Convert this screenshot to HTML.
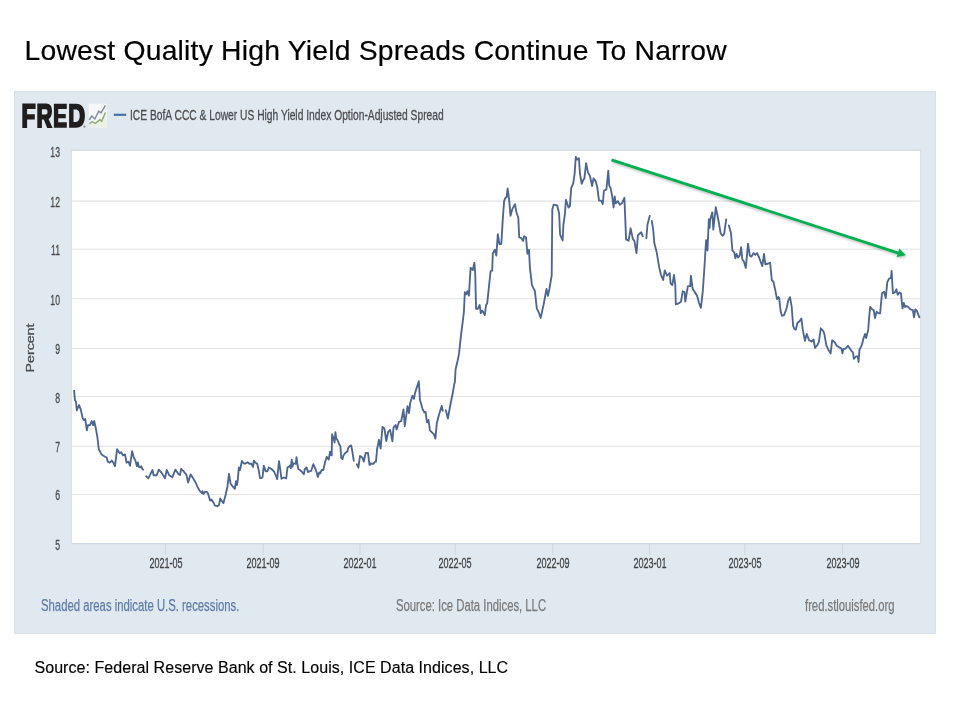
<!DOCTYPE html>
<html><head><meta charset="utf-8">
<style>
html,body{margin:0;padding:0;background:#fff;}
body{width:960px;height:720px;position:relative;overflow:hidden;font-family:"Liberation Sans",sans-serif;}
.title{position:absolute;left:24.5px;top:34.3px;font-size:28.3px;line-height:32px;color:#000;letter-spacing:0.21px;white-space:nowrap;-webkit-text-stroke:0.2px #000;}
.panel{position:absolute;left:14px;top:91px;width:922px;height:543px;background:#e1e9f0;box-shadow:inset 0 0 0 1px #d9e0e8;}
svg.ch{position:absolute;left:0;top:0;}
.yl{position:absolute;left:20px;width:40px;text-align:right;font-size:14px;line-height:16px;color:#4d4d4d;transform:scaleX(0.62);transform-origin:100% 50%;-webkit-text-stroke:0.3px #4d4d4d;}
.xl{position:absolute;top:554.9px;width:80px;text-align:center;font-size:14.5px;line-height:17px;color:#444;transform:scaleX(0.624);-webkit-text-stroke:0.3px #444;}
.pct{position:absolute;left:30px;top:347.8px;font-size:10.8px;line-height:12px;color:#4d4d4d;transform:translate(-50%,-50%) rotate(-90deg) scaleX(1.31);white-space:nowrap;-webkit-text-stroke:0.3px #4d4d4d;}
.legend{position:absolute;left:130.3px;top:106px;font-size:15px;line-height:17px;color:#4d4d4d;white-space:nowrap;transform:scaleX(0.684);transform-origin:0 0;-webkit-text-stroke:0.3px #4d4d4d;}
.foot{position:absolute;top:597px;-webkit-text-stroke:0.25px currentColor;font-size:16px;line-height:18px;white-space:nowrap;transform-origin:0 0;}
.src{position:absolute;left:34.5px;top:658px;-webkit-text-stroke:0.15px #000;font-size:16px;line-height:19px;color:#000;white-space:nowrap;letter-spacing:0.05px;}
#wrap{position:absolute;left:0;top:0;width:960px;height:720px;filter:blur(0.35px);}
</style></head><body><div id="wrap">
<div class="title">Lowest Quality High Yield Spreads Continue To Narrow</div>
<div class="panel"></div>
<svg class="ch" width="960" height="720" viewBox="0 0 960 720">
<rect x="71.8" y="150.7" width="848.2" height="392.9" fill="#fff"/>
<line x1="71.3" x2="71.3" y1="150.7" y2="543.6" stroke="#d8dee8" stroke-width="1"/><line x1="70.8" x2="921" y1="150.1" y2="150.1" stroke="#d6dbe2" stroke-width="1.3"/><line x1="920.6" x2="920.6" y1="150.7" y2="543.6" stroke="#d9dfe7" stroke-width="1.2"/>
<line x1="71.8" x2="920" y1="494.4" y2="494.4" stroke="#e3e3e3" stroke-width="1.05"/><line x1="71.8" x2="920" y1="446.2" y2="446.2" stroke="#e3e3e3" stroke-width="1.05"/><line x1="71.8" x2="920" y1="396.5" y2="396.5" stroke="#e3e3e3" stroke-width="1.05"/><line x1="71.8" x2="920" y1="348.4" y2="348.4" stroke="#e3e3e3" stroke-width="1.05"/><line x1="71.8" x2="920" y1="298.8" y2="298.8" stroke="#e3e3e3" stroke-width="1.05"/><line x1="71.8" x2="920" y1="249.2" y2="249.2" stroke="#e3e3e3" stroke-width="1.05"/><line x1="71.8" x2="920" y1="201.1" y2="201.1" stroke="#e3e3e3" stroke-width="1.05"/>
<line x1="71.8" x2="920" y1="543.6" y2="543.6" stroke="#ccd6e0" stroke-width="1.2"/>
<line x1="165.6" x2="165.6" y1="543.6" y2="555.1" stroke="#cdd5df" stroke-width="1"/><line x1="263.2" x2="263.2" y1="543.6" y2="555.1" stroke="#cdd5df" stroke-width="1"/><line x1="360.0" x2="360.0" y1="543.6" y2="555.1" stroke="#cdd5df" stroke-width="1"/><line x1="455.2" x2="455.2" y1="543.6" y2="555.1" stroke="#cdd5df" stroke-width="1"/><line x1="552.8" x2="552.8" y1="543.6" y2="555.1" stroke="#cdd5df" stroke-width="1"/><line x1="649.6" x2="649.6" y1="543.6" y2="555.1" stroke="#cdd5df" stroke-width="1"/><line x1="744.9" x2="744.9" y1="543.6" y2="555.1" stroke="#cdd5df" stroke-width="1"/><line x1="842.5" x2="842.5" y1="543.6" y2="555.1" stroke="#cdd5df" stroke-width="1"/>
<line x1="113.8" x2="126.2" y1="114.8" y2="114.8" stroke="#4572a7" stroke-width="2.2"/>
<path d="M74.1,390.6 L74.9,400.0 L76.0,401.7 L76.8,410.3 L79.1,405.0 L80.7,409.4 L82.7,418.3 L83.8,420.0 L85.2,419.0 L86.9,430.4 L87.9,425.2 L90.0,425.2 L91.7,421.0 L93.1,425.2 L94.2,421.0 L95.8,428.3 L97.3,436.7 L98.8,449.2 L101.5,454.4 L104.6,456.5 L106.7,457.5 L107.7,461.7 L109.8,462.7 L111.9,460.6 L113.3,462.7 L115.0,466.2 L117.1,449.2 L119.6,453.3 L121.2,452.3 L122.9,455.4 L125.0,454.4 L126.5,462.7 L128.5,461.7 L130.0,465.8 L132.1,451.2 L133.8,457.5 L135.6,461.2 L136.9,466.2 L137.8,462.5 L139.0,466.9 L140.2,467.5 L141.2,466.2 L142.5,469.4 L143.1,469.6 M146.2,476.2 L148.3,478.3 L150.4,474.2 L152.5,470.0 L153.5,475.2 L156.7,475.2 L158.8,469.6 L161.9,473.1 L165.0,478.3 L166.7,470.0 L169.2,475.2 L172.3,477.3 L175.4,469.6 L178.5,474.2 L180.0,475.0 L181.2,468.8 L183.1,470.6 L185.0,473.1 L186.2,474.4 L186.9,476.9 L188.1,482.5 L189.0,479.4 L190.6,474.4 L191.9,476.2 L193.8,479.4 L195.6,482.5 L197.5,486.9 L200.0,491.2 L201.9,493.1 L202.5,491.2 L203.5,494.0 L205.0,491.9 L206.9,491.9 L208.1,493.8 L210.0,500.6 L211.2,499.4 L213.1,501.9 L215.0,505.6 L217.5,506.2 L219.0,505.0 L220.2,498.5 L221.9,501.2 L223.5,503.1 L225.6,495.0 L227.5,486.2 L229.0,473.8 L230.6,483.8 L232.5,486.2 L234.8,488.8 L236.0,481.2 L236.9,485.0 L237.8,480.0 L238.8,467.5 L240.0,470.0 L241.9,461.0 L243.8,463.5 L245.6,463.5 L247.5,462.2 L249.4,463.8 L251.2,463.5 L253.1,466.9 L253.8,460.6 L255.6,462.8 L257.2,463.8 L258.8,470.6 L260.0,478.1 L261.2,478.1 L262.5,477.5 L263.8,465.6 L265.6,471.2 L267.5,471.2 L268.8,467.5 L271.2,468.8 L273.8,471.2 L276.2,476.2 L277.2,479.1 L279.0,461.2 L280.0,467.5 L281.5,478.8 L283.8,477.5 L286.2,478.5 L287.5,467.5 L289.4,466.2 L290.0,465.4 L290.8,468.3 L291.7,459.6 L292.5,466.7 L293.3,463.3 L295.8,463.8 L296.5,457.1 L297.5,465.0 L298.3,469.2 L300.0,470.0 L301.7,471.7 L303.8,474.2 L304.8,469.2 L306.7,467.5 L307.9,472.1 L310.0,471.2 L311.2,470.8 L313.3,464.2 L315.0,467.9 L316.7,472.5 L317.9,477.1 L319.2,472.5 L320.2,473.3 L321.7,470.0 L323.3,470.0 L325.0,462.5 L326.7,456.7 L328.8,459.6 L330.0,451.7 L330.8,455.0 L331.7,455.4 L332.1,434.2 L333.3,437.5 L334.6,442.5 L335.4,432.1 L336.2,438.3 L337.5,440.0 L339.2,444.2 L340.4,446.2 L341.2,457.9 L342.5,459.2 L343.3,455.8 L345.0,453.3 L347.5,451.2 L348.3,447.9 L349.6,446.2 L351.2,445.4 L352.5,452.5 L353.8,460.8 M356.9,464.3 L358.4,467.7 L360.0,455.9 L362.3,457.4 L363.8,461.6 L365.7,452.8 L368.0,452.8 L369.5,465.0 L371.0,463.5 L373.3,463.9 L375.2,461.6 L376.0,461.6 L377.1,449.0 L379.0,439.8 L380.6,448.6 L382.5,426.9 L384.4,428.4 L386.3,441.0 L388.2,431.8 L390.1,429.9 L392.4,441.4 L393.5,427.6 L395.5,425.0 L396.6,429.5 L399.0,421.9 L401.2,421.2 L403.5,409.4 L404.8,426.2 L405.6,420.0 L407.5,406.2 L409.0,413.1 L410.2,403.1 L412.5,395.6 L414.0,398.8 L415.0,393.1 L418.8,381.2 L420.0,400.0 L422.5,408.8 L424.4,412.5 L425.6,411.9 L426.9,422.5 L428.5,419.9 L429.9,430.3 L431.9,432.4 L434.0,434.4 L435.4,438.6 L436.8,423.3 L438.9,415.0 L441.7,406.0 L442.8,410.8 M445.8,410.1 L447.9,418.5 L450.0,406.7 L452.8,392.8 L454.2,384.4 L454.9,381.7 L455.6,369.2 L457.6,360.8 L459.0,353.9 L461.1,334.4 L462.8,321.1 L463.9,312.2 L464.8,292.2 L466.1,294.4 L467.4,291.1 L468.9,295.6 L470.6,267.8 L472.8,270.0 L474.4,262.8 L475.2,273.3 L476.1,308.9 L477.8,308.9 L479.7,305.0 L480.8,313.3 L482.2,310.6 L483.7,312.8 L484.8,315.0 L486.1,305.0 L487.2,303.3 L490.6,271.1 L492.2,270.6 L492.8,253.3 L494.9,249.8 L496.3,255.6 L497.8,234.2 L499.4,244.0 L501.3,244.0 L502.7,220.6 L504.1,201.1 L505.6,197.3 L506.6,197.3 L507.6,188.5 L509.1,199.2 L510.5,215.7 L512.4,208.9 L515.0,204.1 L516.3,211.8 L518.3,217.7 L519.2,237.2 L521.2,238.1 L523.1,241.0 L524.1,236.2 L526.0,237.2 L527.4,253.7 L529.0,249.8 L529.9,267.3 L531.9,284.8 L532.9,287.1 L534.9,291.0 L536.8,308.4 L538.7,312.3 L540.7,317.8 L543.6,304.6 L546.5,289.0 L547.9,295.8 L549.4,289.0 L551.7,275.4 L552.3,209.4 L553.7,204.6 L557.2,205.5 L559.1,213.3 L560.1,234.7 L562.6,240.5 L563.4,225.0 L565.0,213.3 L565.9,199.7 L567.1,203.3 L568.5,207.5 L569.9,206.1 L571.2,188.1 L573.3,183.2 L574.7,172.8 L575.8,156.8 L577.2,159.6 L578.9,158.2 L580.0,174.2 L581.7,183.9 L583.1,180.4 L584.4,178.3 L586.1,163.1 L587.9,172.1 L590.0,176.2 L592.1,186.0 L593.5,178.3 L595.6,181.1 L597.2,186.7 L599.0,200.6 L601.1,200.6 L602.8,204.0 L603.9,190.8 L606.4,189.4 L608.3,170.7 L609.2,185.3 L610.6,188.1 L612.2,196.4 L613.6,207.5 L614.7,196.4 L615.7,203.3 L617.8,201.2 L619.9,204.7 L621.9,203.3 L624.4,197.8 L626.1,239.4 L628.6,240.8 L630.6,228.3 L632.8,238.8 L634.4,240.8 L635.6,247.8 L636.5,253.2 L637.9,235.3 L641.2,232.3 L642.8,236.3 M646.3,238.4 L647.5,224.5 L649.8,215.8 M651.8,221.0 L653.2,229.7 L654.4,243.6 L656.7,252.3 L659.3,267.9 L661.0,274.8 L663.1,280.0 L664.8,270.5 L667.1,275.7 L669.7,273.1 L670.6,283.5 L672.3,285.2 L674.0,274.8 L675.3,285.2 L675.8,304.3 L678.4,303.5 L681.0,301.7 L682.7,291.3 L684.5,292.2 L685.3,301.7 L687.9,286.1 L690.2,286.1 L690.9,275.7 L692.6,288.7 L694.9,292.2 L697.1,295.7 L698.9,302.6 L700.9,307.8 L702.7,292.2 L704.4,267.9 L706.1,240.1 L707.5,250.5 L708.8,219.3 L709.6,228.0 L710.2,219.3 L712.3,212.4 L713.3,229.7 L715.8,207.1 L717.5,215.8 L718.9,222.8 L720.6,233.2 L722.4,235.8 L724.1,234.0 L726.2,219.3 M728.9,225.4 L731.0,233.2 L732.4,250.5 L734.2,252.3 L735.4,258.3 L736.6,254.0 L738.0,257.5 L739.7,255.7 L741.1,247.1 L742.3,259.2 L744.0,261.8 L745.8,267.9 L748.0,243.6 L749.8,255.7 L751.5,256.6 L753.6,253.1 L755.3,254.9 L757.1,253.1 L759.1,257.5 L762.3,266.1 L764.0,254.0 L765.4,264.4 L768.3,263.5 L770.1,262.7 L771.8,280.0 L773.5,281.8 L775.3,290.4 L777.0,299.1 L778.5,297.1 L779.2,297.8 L780.6,311.0 L781.9,315.8 L784.0,315.1 L785.4,311.7 L786.8,307.5 L788.2,300.6 L790.0,297.1 L791.7,306.8 L793.1,325.6 L794.4,329.0 L795.8,329.7 L797.5,322.8 L799.3,321.4 L801.4,318.6 L802.8,329.7 L804.9,340.8 L806.7,333.9 L809.0,340.1 L811.4,341.5 L813.6,339.4 L815.0,347.8 L817.4,345.0 L818.8,342.2 L820.8,328.3 L823.3,331.1 L824.3,333.9 L826.4,345.7 L828.5,349.9 L830.6,353.3 L832.2,340.1 L834.7,342.2 L836.8,345.7 L838.9,347.1 L841.4,348.5 L842.4,353.3 L843.3,349.2 L845.8,348.5 L847.9,345.7 L851.4,350.8 L853.0,352.4 L853.8,358.8 L856.2,356.4 L857.8,356.4 L858.6,362.0 L859.4,350.0 L861.8,345.2 L863.4,338.8 L865.0,334.0 L866.1,338.0 L868.2,330.0 L869.0,318.9 L870.2,306.9 L872.1,309.3 L873.7,310.1 L875.0,318.1 L876.6,311.7 L878.5,313.3 L880.1,313.3 L882.0,293.3 L884.1,291.7 L885.7,298.1 L887.3,282.1 L888.9,279.0 L891.0,277.4 L891.6,271.0 L892.9,293.3 L894.8,292.5 L896.4,289.3 L897.7,294.9 L899.3,292.5 L900.9,293.3 L902.5,308.5 L903.8,302.9 L904.9,306.9 L906.5,306.1 L908.1,306.9 L910.5,309.3 L912.9,310.1 L914.0,317.3 L915.3,309.3 L916.9,310.9 L919.3,317.3" fill="none" stroke="#4d6690" stroke-width="1.85" stroke-linejoin="round" stroke-linecap="round"/>
<g>
<rect x="88.8" y="103.8" width="17.9" height="23.7" fill="#f6f8f7"/>
<polygon points="89.2,123.75 92.1,121.7 95.4,123.3 100,119.6 101.7,121.25 105.4,112.5 106.7,127.5 88.8,127.5" fill="#ebf2e4"/>
<polyline points="89.2,120 91.9,116 94.8,119 98.75,111.25 101,112.9 105.4,105.4" fill="none" stroke="#87909b" stroke-width="1.5"/>
<polyline points="89.2,123.75 92.1,121.7 95.4,123.3 100,119.6 101.7,121.25 105.4,112.5" fill="none" stroke="#93aa80" stroke-width="1.5"/>
</g>
<g fill="#1f1d1e">
<path d="M22.3,103.5 H35.6 V109 H27.1 V114.2 H34.8 V119.4 H27.1 V127.9 H22.3 Z"/>
<path fill-rule="evenodd" d="M37.3,103.5 H46.2 C50.2,103.5 52,106.2 52,111.4 C52,115.2 50.6,117.8 48.6,118.9 L52.6,127.9 H47.2 L43.8,119.6 H41.9 V127.9 H37.3 Z M41.9,109.2 H45.8 C47,109.2 47.5,110.1 47.5,111.8 C47.5,113.5 47,114.4 45.8,114.4 H41.9 Z"/>
<path d="M53.9,103.75 H66.8 V109 H58.25 V114 H65.75 V118.3 H58.25 V122.3 H66.8 V127.7 H53.9 Z"/>
<path fill-rule="evenodd" d="M69.1,103.75 H76 C81.8,103.75 84.9,108 84.9,115.7 C84.9,123.4 81.8,127.7 76,127.7 H69.1 Z M73.5,109.4 H75.6 C78.4,109.4 79.7,111.5 79.7,115.6 C79.7,119.8 78.4,121.9 75.6,121.9 H73.5 Z"/>
<circle cx="84.4" cy="126.6" r="1.1" fill="#888"/>
</g>
<defs><filter id="sh" x="-5%" y="-50%" width="110%" height="200%"><feGaussianBlur stdDeviation="1"/></filter></defs>
<g filter="url(#sh)" opacity="0.22"><line x1="612" y1="161.6" x2="899" y2="255" stroke="#000" stroke-width="2.8"/><polygon points="906.5,257.1 899.9,250.4 897.1,258.8" fill="#000"/></g>
<line x1="611.5" y1="159.8" x2="898.5" y2="253.2" stroke="#00b050" stroke-width="2.8"/>
<polygon points="906,255.3 899.4,248.6 896.6,257" fill="#00b050"/>
</svg>
<div class="legend">ICE BofA CCC &amp; Lower US High Yield Index Option-Adjusted Spread</div>
<div class="yl" style="top:536.6px">5</div><div class="yl" style="top:487.4px">6</div><div class="yl" style="top:439.2px">7</div><div class="yl" style="top:389.5px">8</div><div class="yl" style="top:341.4px">9</div><div class="yl" style="top:291.8px">10</div><div class="yl" style="top:242.2px">11</div><div class="yl" style="top:194.1px">12</div><div class="yl" style="top:143.7px">13</div>
<div class="xl" style="left:125.6px">2021-05</div><div class="xl" style="left:223.2px">2021-09</div><div class="xl" style="left:320.0px">2022-01</div><div class="xl" style="left:415.2px">2022-05</div><div class="xl" style="left:512.8px">2022-09</div><div class="xl" style="left:609.6px">2023-01</div><div class="xl" style="left:704.9px">2023-05</div><div class="xl" style="left:802.5px">2023-09</div>
<div class="pct">Percent</div>
<div class="foot" style="left:41px;color:#5f7da6;transform:scaleX(0.708);">Shaded areas indicate U.S. recessions.</div>
<div class="foot" style="left:396px;color:#7a7a7a;transform:scaleX(0.706);">Source: Ice Data Indices, LLC</div>
<div class="foot" style="left:805px;color:#7a7a7a;transform:scaleX(0.703);">fred.stlouisfed.org</div>
<div class="src">Source: Federal Reserve Bank of St. Louis, ICE Data Indices, LLC</div>
</div></body></html>
